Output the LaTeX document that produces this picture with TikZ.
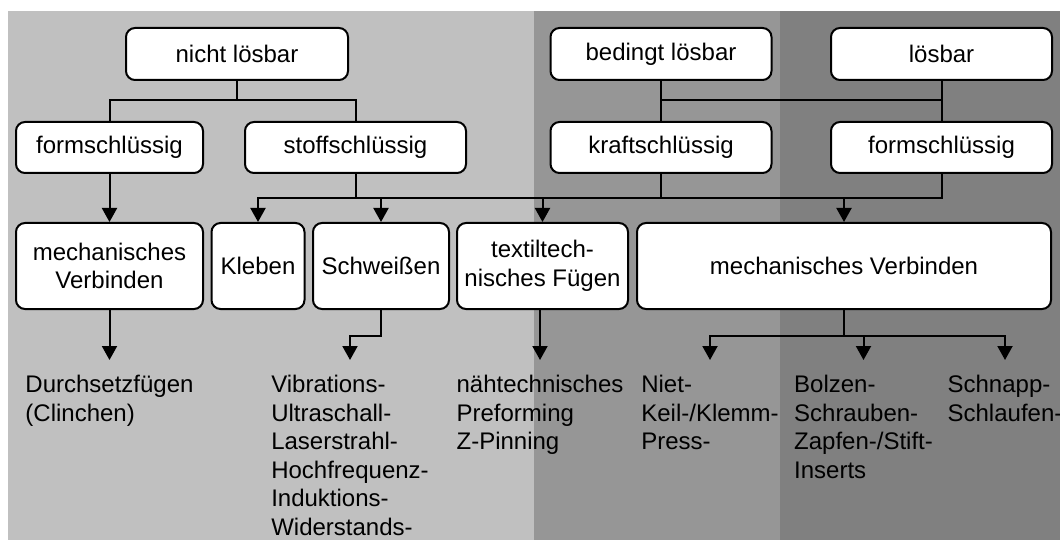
\documentclass[tikz,border=0pt]{standalone}
\usepackage{fontspec}
\setmainfont{Liberation Sans}
\usetikzlibrary{arrows.meta}
\definecolor{bgA}{HTML}{C0C0C0}
\definecolor{bgB}{HTML}{969696}
\definecolor{bgC}{HTML}{808080}
\begin{document}
\begin{tikzpicture}[x=1pt,y=-1pt,
  box/.style={draw=black,fill=white,line width=2pt,rounded corners=9pt,
    align=center,inner sep=0pt,font=\fontsize{24}{28.6}\selectfont},
  lbl/.style={anchor=north,align=left,inner sep=0pt,font=\fontsize{24}{28.6}\selectfont},
  con/.style={line width=2pt,draw=black},
  arr/.style={con,-{Triangle[width=15pt,length=14pt]}}]
\useasboundingbox (0,0) rectangle (1060,540);
\fill[white] (0,0) rectangle (1060,540);
\fill[bgA] (8,11) rectangle (534,540);
\fill[bgB] (534,11) rectangle (780,540);
\fill[bgC] (780,11) rectangle (1060,540);

\coordinate (r1) at (0,100);
\coordinate (r2) at (0,198);
\coordinate (r4) at (0,336);

% row 1
\node[box,minimum width=222pt,minimum height=52pt] (nl) at (237,54) {nicht lösbar};
\node[box,minimum width=221pt,minimum height=52pt] (bl) at (661,54) {bedingt lösbar};
\node[box,minimum width=221pt,minimum height=52pt] (lb) at (941.5,54) {lösbar};
% row 2
\node[box,minimum width=187pt,minimum height=51pt] (fs1) at (109.5,147.5) {formschlüssig};
\node[box,minimum width=221pt,minimum height=51pt] (ss) at (355.5,147.5) {stoffschlüssig};
\node[box,minimum width=221pt,minimum height=51pt] (ks) at (661,147.5) {kraftschlüssig};
\node[box,minimum width=221pt,minimum height=51pt] (fs2) at (941.5,147.5) {formschlüssig};
% row 3
\node[box,minimum width=187pt,minimum height=86pt] (mv1) at (109.5,266) {mechanisches\\Verbinden};
\node[box,minimum width=93pt,minimum height=86pt] (kl) at (258,266) {Kleben};
\node[box,minimum width=136pt,minimum height=86pt] (sw) at (381,266) {Schweißen};
\node[box,minimum width=171pt,minimum height=86pt] (tf) at (542.5,266) {textiltech-\\nisches Fügen};
\node[box,minimum width=414pt,minimum height=86pt] (mv2) at (844,266) {mechanisches Verbinden};

% bottom texts
\node[lbl] (t1) at (109.5,375) {Durchsetzfügen\\(Clinchen)};
\node[lbl] (t2) at (350,375) {Vibrations-\\Ultraschall-\\Laserstrahl-\\Hochfrequenz-\\Induktions-\\Widerstands-};
\node[lbl] (t4) at (540,375) {nähtechnisches\\Preforming\\Z-Pinning};
\node[lbl] (t5) at (710,375) {Niet-\\Keil-/Klemm-\\Press-};
\node[lbl] (t6) at (863.5,375) {Bolzen-\\Schrauben-\\Zapfen-/Stift-\\Inserts};
\node[lbl] (t7) at (1005,375) {Schnapp-\\Schlaufen-};

% connectors level 1
\draw[con] (nl.south) -- (nl.south |- r1);
\draw[con] (fs1.north) |- (ss.north |- r1) -- (ss.north);
\draw[con] (bl.south) -- (bl.south |- r1);
\draw[con] (lb.south) -- (lb.south |- r1);
\draw[con] (ks.north) |- (fs2.north |- r1) -- (fs2.north);

% level 2
\draw[arr] (fs1.south) -- (mv1.north);
\draw[con] (ss.south) -- (ss.south |- r2);
\draw[con] (ks.south) -- (ks.south |- r2);
\draw[arr] (fs2.south) -- (fs2.south |- r2) -- (kl.north |- r2) -- (kl.north);
\draw[arr] (sw.north |- r2) -- (sw.north);
\draw[arr] (tf.north |- r2) -- (tf.north);
\draw[arr] (mv2.north |- r2) -- (mv2.north);

% level 3
\draw[arr] (mv1.south) -- ([yshift=15pt]t1.north);
\draw[arr] (sw.south) -- (sw.south |- r4) -- (t2.north |- r4) -- ([yshift=15pt]t2.north);
\draw[arr] (t4.north |- tf.south) -- ([yshift=15pt]t4.north);
\draw[arr] (mv2.south) -- (mv2.south |- r4) -- (t5.north |- r4) -- ([yshift=15pt]t5.north);
\draw[arr] (mv2.south |- r4) -- (t7.north |- r4) -- ([yshift=15pt]t7.north);
\draw[arr] (t6.north |- r4) -- ([yshift=15pt]t6.north);
\end{tikzpicture}
\end{document}
